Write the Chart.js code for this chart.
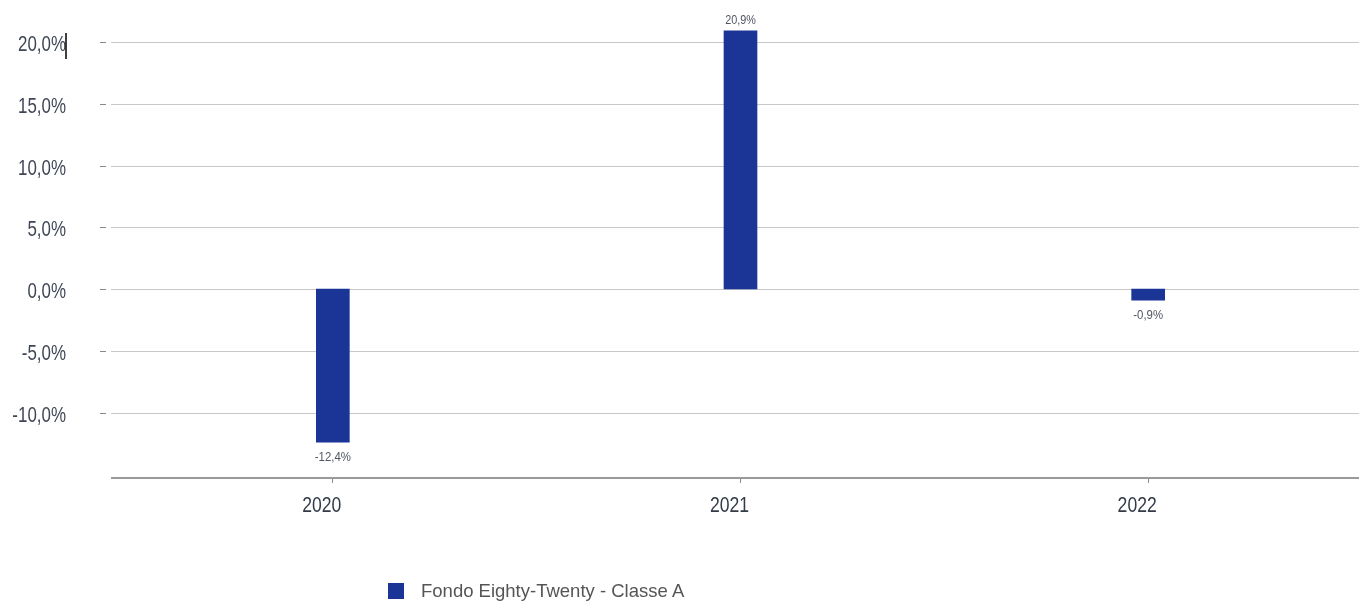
<!DOCTYPE html>
<html>
<head>
<meta charset="utf-8">
<script src="https://cdn.jsdelivr.net/npm/chart.js@4"></script>
<style>
html,body{margin:0;padding:0;background:#fff;}
#wrap{position:relative;width:1359px;height:601px;}
#legend{position:absolute;left:388px;top:580px;font-family:'Liberation Sans',sans-serif;font-size:18.5px;color:#555;display:flex;align-items:center;white-space:nowrap;}
#legend span.box{display:inline-block;width:16px;height:16px;background:#1b3596;margin-right:17px;}
</style>
</head>
<body>
<div id="wrap">
<canvas id="c" width="1359" height="601"></canvas>
<div id="legend"><span class="box"></span><span>Fondo Eighty-Twenty - Classe A</span></div>
</div>
<script>
const categories = ['2020', '2021', '2022'];
const seriesName = 'Fondo Eighty-Twenty - Classe A';
const seriesValues = [-12.4, 20.9, -0.9];
const yTicks = [-10, -5, 0, 5, 10, 15, 20];

const fmt = v => v.toFixed(1).replace('.', ',') + '%';
const FONT = "'Liberation Sans',sans-serif";

function narrowText(ctx, text, x, y, sx, align) {
  ctx.save();
  ctx.translate(x, y);
  ctx.scale(sx, 1);
  ctx.textAlign = align;
  ctx.fillText(text, 0, 0);
  ctx.restore();
}

const drawPlugin = {
  id: 'drawPlugin',
  beforeDatasetsDraw(chart) {
    const ctx = chart.ctx, y = chart.scales.y, x = chart.scales.x;
    ctx.save();
    yTicks.forEach(v => {
      const py = Math.round(y.getPixelForValue(v)) + 0.5;
      ctx.strokeStyle = '#c8c8c8'; ctx.lineWidth = 1;
      ctx.beginPath(); ctx.moveTo(111, py); ctx.lineTo(1359, py); ctx.stroke();
      ctx.strokeStyle = '#8a8a8a';
      ctx.beginPath(); ctx.moveTo(100, py); ctx.lineTo(106, py); ctx.stroke();
    });
    // axis line
    const by = Math.round(chart.chartArea.bottom);
    ctx.strokeStyle = '#9a9a9a'; ctx.lineWidth = 2;
    ctx.beginPath(); ctx.moveTo(111, by); ctx.lineTo(1359, by); ctx.stroke();
    // y labels
    ctx.fillStyle = '#3e4656';
    ctx.font = '22px ' + FONT;
    ctx.textBaseline = 'middle';
    yTicks.forEach(v => {
      narrowText(ctx, fmt(v), 66, y.getPixelForValue(v) + 3, 0.77, 'right');
    });
    // x labels
    ctx.fillStyle = '#333b48';
    x.ticks.forEach((t, i) => {
      narrowText(ctx, categories[i], x.getPixelForTick(i) - 11, by + 28, 0.8, 'center');
    });
    // cursor artifact
    ctx.strokeStyle = '#000'; ctx.lineWidth = 1.5;
    ctx.beginPath(); ctx.moveTo(66, 33); ctx.lineTo(66, 59); ctx.stroke();
    ctx.restore();
  },
  afterDatasetsDraw(chart) {
    const ctx = chart.ctx;
    const meta = chart.getDatasetMeta(0);
    ctx.save();
    ctx.font = '12px ' + FONT;
    ctx.fillStyle = '#4f5563';
    meta.data.forEach((bar, i) => {
      const v = seriesValues[i];
      if (v >= 0) { ctx.textBaseline = 'alphabetic'; narrowText(ctx, fmt(v), bar.x, bar.y - 7, 0.9, 'center'); }
      else { ctx.textBaseline = 'top'; narrowText(ctx, fmt(v), bar.x, bar.y + 10, 0.95, 'center'); }
    });
    ctx.restore();
  }
};

new Chart(document.getElementById('c'), {
  type: 'bar',
  data: {
    labels: categories,
    datasets: [{
      label: seriesName,
      data: seriesValues,
      backgroundColor: '#1b3596',
      barThickness: 33
    }]
  },
  options: {
    responsive: false,
    animation: false,
    layout: { padding: { top: 23.5, right: 7, left: 0, bottom: 0 } },
    plugins: { legend: { display: false }, tooltip: { enabled: false } },
    scales: {
      y: {
        min: -15.3, max: 21.5,
        afterBuildTicks: s => { s.ticks = yTicks.map(v => ({ value: v })); },
        afterFit: s => { s.width = 129; s.paddingTop = 0; s.paddingBottom = 0; },
        grid: { display: false, drawTicks: false },
        border: { display: false },
        ticks: { display: false }
      },
      x: {
        afterFit: s => { s.height = 123; s.paddingLeft = 0; s.paddingRight = 0; },
        grid: { drawOnChartArea: false, drawTicks: true, tickLength: 5, offset: false, color: '#8a8a8a' },
        border: { display: false },
        ticks: { display: false }
      }
    }
  },
  plugins: [drawPlugin]
});
</script>
</body>
</html>
